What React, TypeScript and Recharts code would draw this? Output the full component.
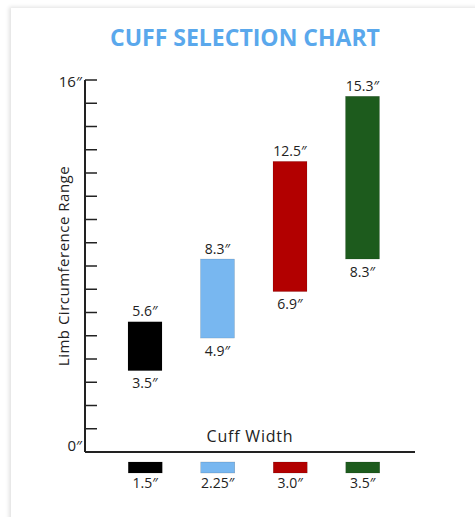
import React from 'react';
import { BarChart, Bar, XAxis, YAxis, Label } from 'recharts';

const cuffWidths = ['1.5″', '2.25″', '3.0″', '3.5″'];
const lowLimb = [3.5, 4.9, 6.9, 8.3];
const highLimb = [5.6, 8.3, 12.5, 15.3];
const cuffColors = ['#000000', '#78b7f0', '#b20000', '#1d5b1d'];
const yTicks = [0, 1, 2, 3, 4, 5, 6, 7, 8, 9, 10, 11, 12, 13, 14, 15, 16];

const data = cuffWidths.map((w, i) => ({
    width: w,
    range: [lowLimb[i], highLimb[i]],
    low: lowLimb[i],
    high: highLimb[i],
    color: cuffColors[i],
}));

const FONT = '"Open Sans", "DejaVu Sans", sans-serif';
const INK = '#222';

const renderYTick = ({ x, y, payload }: any) => {
    const v = payload.value;
    return (
        <g>
            {v !== 0 && <line x1={x} x2={x + 12} y1={y} y2={y} stroke={INK} strokeWidth={1.5} />}
            {(v === 0 || v === 16) && (
                <text x={x - 3} y={v === 0 ? y - 7 : y + 1} textAnchor="end" dominantBaseline="central"
                    fontSize={15} fill={INK} fontFamily={FONT}>
                    {v}″
                </text>
            )}
        </g>
    );
};

const renderXTick = ({ x, y, index, payload }: any) => (
    <g>
        <rect x={x - 17} y={y + 10} width={34} height={11} fill={cuffColors[index]} stroke="rgba(0,0,0,0.25)" strokeWidth={0.5} />
        <text x={x} y={y + 30} textAnchor="middle" dominantBaseline="central" fontSize={14} fill={INK} fontFamily={FONT}>
            {payload.value}
        </text>
    </g>
);

const renderRangeBar = (props: any) => {
    const { x, y, width, height, payload } = props;
    const top = Math.min(y, y + height);
    const h = Math.abs(height);
    return (
        <g>
            <rect x={x} y={top} width={width} height={h} fill={payload.color} stroke="rgba(0,0,0,0.2)" strokeWidth={0.5} />
            <text x={x + width / 2} y={top - 11} textAnchor="middle" dominantBaseline="central" fontSize={14} fill={INK} fontFamily={FONT}>
                {payload.high}″
            </text>
            <text x={x + width / 2} y={top + h + 12} textAnchor="middle" dominantBaseline="central" fontSize={14} fill={INK} fontFamily={FONT}>
                {payload.low}″
            </text>
        </g>
    );
};

const renderYLabel = ({ viewBox }: any) => {
    const cx = viewBox.x + 23;
    const cy = viewBox.y + viewBox.height / 2;
    return (
        <text x={cx} y={cy} transform={`rotate(-90 ${cx} ${cy})`} textAnchor="middle" dominantBaseline="central"
            fontSize={15} fill={INK} fontFamily={FONT} letterSpacing={0.5}>
            Limb Circumference Range
        </text>
    );
};

const App = () => {
    return (
        <div style={{ position: 'absolute', left: 0, top: 0, width: 475, height: 517, overflow: 'hidden', background: '#fff', fontFamily: FONT }}>
            <div style={{ position: 'absolute', left: 11, top: 8, width: 520, height: 560, boxShadow: '-2px -1px 4px rgba(0,0,0,0.12)' }} />
            <div style={{ position: 'absolute', left: 15, top: 21, width: 460, textAlign: 'center', color: '#5aa8ec', fontWeight: 700, fontSize: 23 }}>
                CUFF SELECTION CHART
            </div>
            <div style={{ position: 'absolute', left: 0, top: 0 }}>
                <BarChart width={475} height={517} data={data} margin={{ top: 80, right: 60, bottom: 25, left: 40 }}>
                    <XAxis dataKey="width" padding={{ left: 24, right: 16 }} height={40} tickSize={0} tickMargin={0}
                        interval={0} tickLine={false} axisLine={{ stroke: INK, strokeWidth: 2 }} tick={renderXTick}>
                        <Label value="Cuff Width" position="top" offset={10} fontSize={16} fill={INK} fontFamily={FONT} letterSpacing={0.8} />
                    </XAxis>
                    <YAxis type="number" domain={[0, 16]} ticks={yTicks} interval={0} width={45} tickSize={0} tickMargin={0}
                        tickLine={false} axisLine={{ stroke: INK, strokeWidth: 2 }} tick={renderYTick}>
                        <Label content={renderYLabel} />
                    </YAxis>
                    <Bar dataKey="range" barSize={34} isAnimationActive={false} shape={renderRangeBar} />
                </BarChart>
            </div>
        </div>
    );
};

export default App;
